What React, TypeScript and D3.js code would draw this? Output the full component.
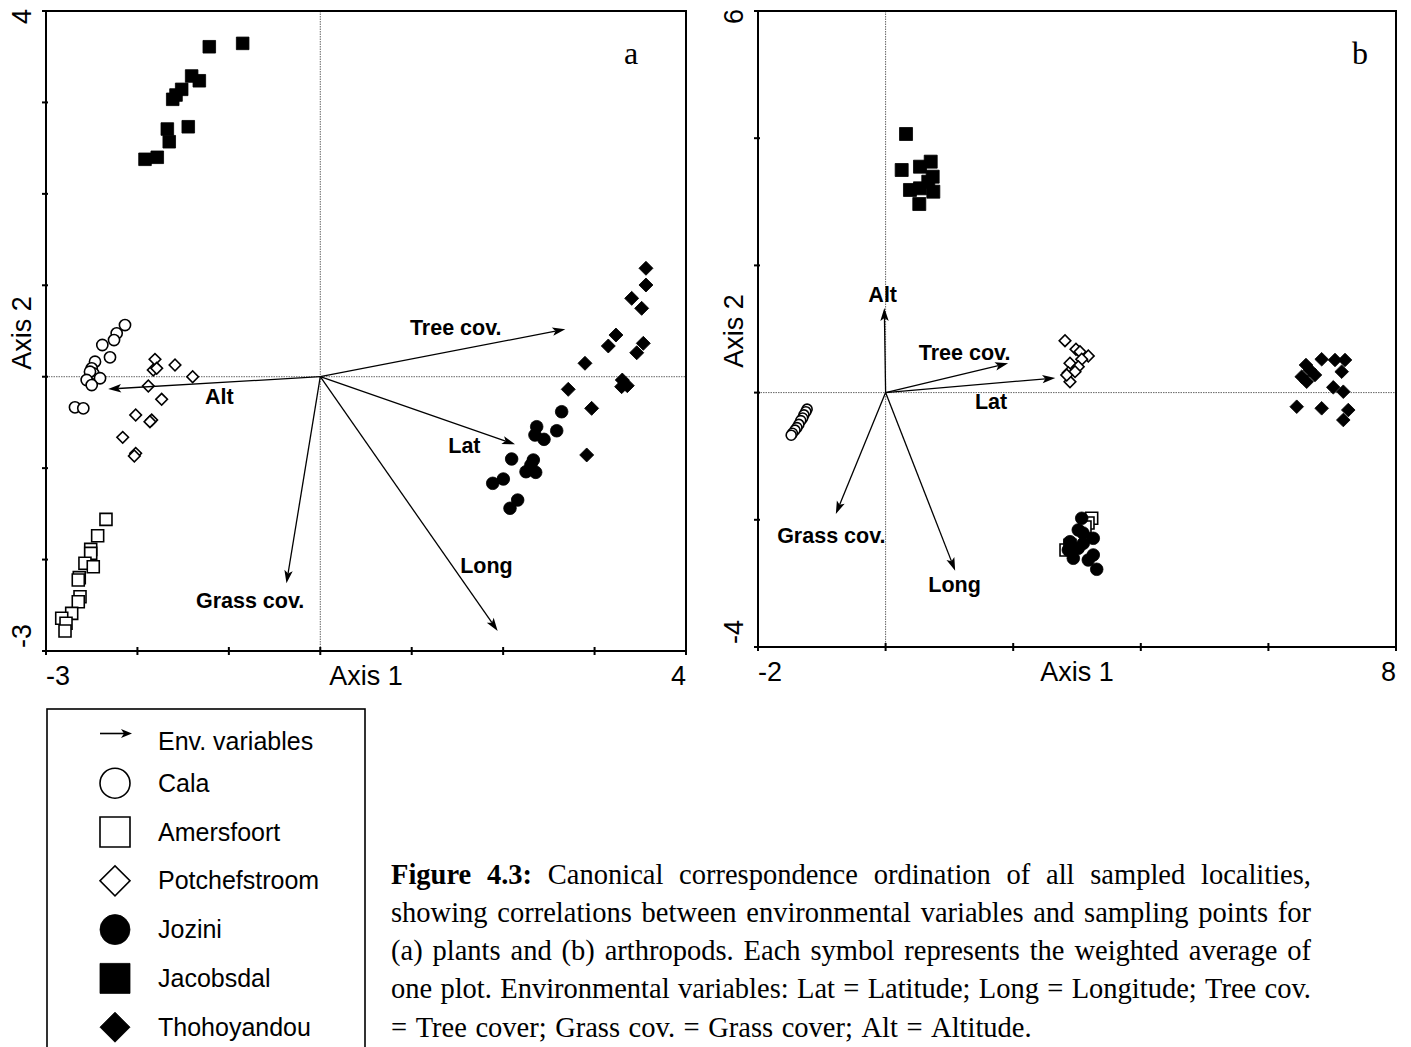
import React, { useEffect, useRef } from "react";
import * as d3 from "d3";

type Pt = [number, number];

interface EnvArrow {
  name: string;
  x: number;
  y: number;
  labelX: number;
  labelY: number;
}

// ---------- (a) plants: site scores on CCA axes 1 and 2 ----------
const plantsCala: Pt[] = [
  [-2.136, 0.565], [-2.227, 0.475], [-2.256, 0.401], [-2.384, 0.347], [-2.3, 0.212],
  [-2.464, 0.164], [-2.5, 0.092], [-2.483, 0.037], [-2.519, 0.055], [-2.409, -0.017],
  [-2.555, -0.036], [-2.5, -0.091], [-2.683, -0.335], [-2.592, -0.346],
];
const plantsAmersfoort: Pt[] = [
  [-2.344, -1.56], [-2.435, -1.739], [-2.511, -1.888], [-2.511, -1.932], [-2.574, -2.041],
  [-2.483, -2.078], [-2.636, -2.198], [-2.647, -2.224], [-2.628, -2.406], [-2.647, -2.461],
  [-2.719, -2.588], [-2.828, -2.642], [-2.781, -2.697], [-2.792, -2.781],
];
const plantsPotchefstroom: Pt[] = [
  [-1.808, 0.19], [-1.589, 0.128], [-1.827, 0.073], [-1.789, 0.092], [-1.396, 0.0],
  [-1.881, -0.102], [-1.735, -0.247], [-2.019, -0.419], [-1.844, -0.474], [-1.863, -0.492],
  [-2.161, -0.663], [-2.019, -0.838], [-2.034, -0.867],
];
const plantsJozini: Pt[] = [
  [2.64, -0.383], [2.586, -0.591], [2.367, -0.547], [2.348, -0.638], [2.447, -0.685],
  [2.093, -0.9], [2.33, -0.911], [2.304, -0.966], [2.25, -1.039], [2.356, -1.046],
  [2.002, -1.119], [1.886, -1.166], [2.159, -1.349], [2.075, -1.439],
];
const plantsJacobsdal: Pt[] = [
  [-1.214, 3.609], [-0.849, 3.646], [-1.407, 3.289], [-1.323, 3.237], [-1.516, 3.143],
  [-1.578, 3.081], [-1.614, 3.034], [-1.444, 2.734], [-1.673, 2.709], [-1.652, 2.57],
  [-1.917, 2.378], [-1.783, 2.4],
];
const plantsThohoyandou: Pt[] = [
  [3.562, 1.186], [3.562, 1.003], [3.406, 0.857], [3.515, 0.748], [3.234, 0.456],
  [3.15, 0.336], [3.533, 0.365], [3.461, 0.262], [2.895, 0.147], [3.303, -0.036],
  [3.358, -0.098], [3.296, -0.109], [2.712, -0.138], [2.968, -0.346], [2.914, -0.856],
];
const plantsArrows: EnvArrow[] = [
  { name: "Tree cov.", x: 2.68, y: 0.52, labelX: 0.98, labelY: 0.46 },
  { name: "Alt", x: -2.32, y: -0.135, labelX: -1.26, labelY: -0.3 },
  { name: "Lat", x: 2.13, y: -0.74, labelX: 1.4, labelY: -0.835 },
  { name: "Long", x: 1.94, y: -2.78, labelX: 1.53, labelY: -2.147 },
  { name: "Grass cov.", x: -0.37, y: -2.26, labelX: -1.36, labelY: -2.53 },
];

// ---------- (b) arthropods ----------
const arthCala: Pt[] = [
  [-1.23, -0.26], [-1.25, -0.3], [-1.28, -0.35], [-1.3, -0.4], [-1.33, -0.44],
  [-1.36, -0.5], [-1.39, -0.55], [-1.42, -0.59], [-1.46, -0.64], [-1.48, -0.67],
];
const arthAmersfoort: Pt[] = [
  [3.23, -1.976], [3.172, -2.05], [3.125, -2.113], [2.828, -2.475], [2.89, -2.4],
];
const arthPotchefstroom: Pt[] = [
  [2.812, 0.816], [2.984, 0.681], [3.047, 0.643], [3.177, 0.575], [3.074, 0.524],
  [2.89, 0.461], [3.02, 0.407], [2.864, 0.313], [2.969, 0.329], [2.89, 0.171], [2.839, 0.277],
];
const arthJozini: Pt[] = [
  [3.074, -1.976], [3.02, -2.16], [3.255, -2.291], [2.89, -2.344], [3.099, -2.37],
  [2.864, -2.475], [3.02, -2.448], [3.255, -2.553], [2.942, -2.605], [3.177, -2.632],
  [3.309, -2.778], [3.094, -2.208],
];
const arthJacobsdal: Pt[] = [
  [0.32, 4.066], [0.252, 3.5], [0.707, 3.631], [0.539, 3.552], [0.738, 3.395],
  [0.382, 3.186], [0.748, 3.159], [0.539, 3.212], [0.528, 2.965], [0.669, 3.316],
];
const arthThohoyandou: Pt[] = [
  [6.589, 0.434], [6.835, 0.524], [7.044, 0.513], [7.201, 0.513], [6.652, 0.355],
  [6.522, 0.25], [6.6, 0.171], [6.73, 0.277], [7.149, 0.329], [7.017, 0.083],
  [7.174, 0.014], [6.444, -0.222], [6.835, -0.247], [7.252, -0.274], [7.174, -0.431],
];
const arthArrows: EnvArrow[] = [
  { name: "Alt", x: -0.02, y: 1.33, labelX: -0.27, labelY: 1.43 },
  { name: "Tree cov.", x: 1.92, y: 0.46, labelX: 0.52, labelY: 0.52 },
  { name: "Lat", x: 2.66, y: 0.23, labelX: 1.4, labelY: -0.26 },
  { name: "Grass cov.", x: -0.78, y: -1.91, labelX: -1.7, labelY: -2.36 },
  { name: "Long", x: 1.09, y: -2.8, labelX: 0.67, labelY: -3.13 },
];

const localities = ["Cala", "Amersfoort", "Potchefstroom", "Jozini", "Jacobsdal", "Thohoyandou"];

const captionLines: string[] = [
  "**Figure 4.3:** Canonical correspondence ordination of all sampled localities,",
  "showing correlations between environmental variables and sampling points for",
  "(a) plants and (b) arthropods. Each symbol represents the weighted average of",
  "one plot. Environmental variables: Lat = Latitude; Long = Longitude; Tree cov.",
  "= Tree cover; Grass cov. = Grass cover; Alt = Altitude.",
];

// ---------- drawing ----------
type Shape = "circle" | "square" | "diamond";
interface Style {
  shape: Shape;
  filled: boolean;
}
const localityStyle: Record<string, Style> = {
  Cala: { shape: "circle", filled: false },
  Amersfoort: { shape: "square", filled: false },
  Potchefstroom: { shape: "diamond", filled: false },
  Jozini: { shape: "circle", filled: true },
  Jacobsdal: { shape: "square", filled: true },
  Thohoyandou: { shape: "diamond", filled: true },
};

const SANS = "'Liberation Sans', Arial, sans-serif";
const SERIF = "'Liberation Serif', 'Times New Roman', serif";

// size = radius for circles, half side for squares, half diagonal for diamonds
function symbolPath(shape: Shape, size: number): string {
  if (shape === "circle") return d3.symbol().type(d3.symbolCircle).size(Math.PI * size * size)()!;
  if (shape === "square") return d3.symbol().type(d3.symbolSquare).size(4 * size * size)()!;
  return d3.symbol().type(d3.symbolSquare).size(2 * size * size)()!;
}

function Marker({ shape, filled, size, x, y }: { shape: Shape; filled: boolean; size: number; x: number; y: number }) {
  const rot = shape === "diamond" ? " rotate(45)" : "";
  return (
    <path
      d={symbolPath(shape, size)}
      transform={`translate(${x},${y})${rot}`}
      fill={filled ? "#000" : "#fff"}
      stroke="#000"
      strokeWidth={filled ? 0.8 : 1.6}
    />
  );
}

function ArrowLine({ x1, y1, x2, y2, head = 13, half = 4.2, width = 1.3 }: { x1: number; y1: number; x2: number; y2: number; head?: number; half?: number; width?: number }) {
  const dx = x2 - x1;
  const dy = y2 - y1;
  const len = Math.hypot(dx, dy);
  const ux = dx / len;
  const uy = dy / len;
  const bx = x2 - ux * head;
  const by = y2 - uy * head;
  const tri = `M${x2},${y2} L${bx - uy * half},${by + ux * half} L${bx + ux * 3},${by + uy * 3} L${bx + uy * half},${by - ux * half} Z`;
  return (
    <g>
      <line x1={x1} y1={y1} x2={bx + ux * 3} y2={by + uy * 3} stroke="#000" strokeWidth={width} />
      <path d={tri} fill="#000" />
    </g>
  );
}

interface PanelProps {
  left: number;
  right: number;
  top: number;
  bottom: number;
  xDomain: [number, number];
  yDomain: [number, number];
  tickCount: number;
  series: Record<string, Pt[]>;
  sizes: Record<string, number>;
  arrows: EnvArrow[];
  letter: string;
  letterInset: number;
}

function Panel(p: PanelProps) {
  const x = d3.scaleLinear().domain(p.xDomain).range([p.left, p.right]);
  const y = d3.scaleLinear().domain(p.yDomain).range([p.bottom, p.top]);
  const xt = x.ticks(p.tickCount);
  const yt = y.ticks(p.tickCount);
  const ox = x(0);
  const oy = y(0);
  const yLabelX = p.left - 15;
  return (
    <g>
      {/* zero lines */}
      <line x1={ox} x2={ox} y1={p.top} y2={p.bottom} stroke="#666" strokeWidth={1} strokeDasharray="1.5,1" />
      <line x1={p.left} x2={p.right} y1={oy} y2={oy} stroke="#666" strokeWidth={1} strokeDasharray="1.5,1" />
      {/* sites */}
      {localities.map((loc) =>
        p.series[loc].map((d, i) => (
          <Marker key={`${loc}-${i}`} shape={localityStyle[loc].shape} filled={localityStyle[loc].filled} size={p.sizes[loc]} x={x(d[0])} y={y(d[1])} />
        ))
      )}
      {/* environmental variables */}
      {p.arrows.map((a) => (
        <g key={a.name}>
          <ArrowLine x1={ox} y1={oy} x2={x(a.x)} y2={y(a.y)} />
          <text x={x(a.labelX)} y={y(a.labelY)} fontFamily={SANS} fontWeight="bold" fontSize={21.5} fill="#000">
            {a.name}
          </text>
        </g>
      ))}
      {/* frame */}
      <rect x={p.left} y={p.top} width={p.right - p.left} height={p.bottom - p.top} fill="none" stroke="#000" strokeWidth={2} />
      {xt.map((t) => (
        <line key={`xt${t}`} x1={x(t)} x2={x(t)} y1={p.bottom - 4} y2={p.bottom + 4} stroke="#000" strokeWidth={2} />
      ))}
      {yt.map((t) => (
        <line key={`yt${t}`} x1={p.left - 4} x2={p.left + 2} y1={y(t)} y2={y(t)} stroke="#000" strokeWidth={2} />
      ))}
      {/* axis end values and titles */}
      <g fontFamily={SANS} fontSize={27} fill="#000">
        <text x={p.left} y={p.bottom + 34} textAnchor="start">{p.xDomain[0]}</text>
        <text x={p.right} y={p.bottom + 34} textAnchor="end">{p.xDomain[1]}</text>
        <text x={(p.left + p.right) / 2} y={p.bottom + 34} textAnchor="middle">Axis 1</text>
        <text transform={`translate(${yLabelX},${p.top - 2}) rotate(-90)`} textAnchor="end">{p.yDomain[1]}</text>
        <text transform={`translate(${yLabelX},${p.bottom - 3}) rotate(-90)`} textAnchor="start">{p.yDomain[0]}</text>
        <text transform={`translate(${yLabelX},${(p.top + p.bottom) / 2 + 2}) rotate(-90)`} textAnchor="middle">Axis 2</text>
      </g>
      <text x={p.right - p.letterInset} y={64} fontFamily={SERIF} fontSize={32} textAnchor="middle">{p.letter}</text>
    </g>
  );
}

function Legend() {
  const left = 47;
  const top = 709;
  const symX = 115;
  const textX = 158;
  const rowH = 48.8;
  const envBase = 749.5;
  const firstBase = 791.7;
  return (
    <g>
      <rect x={left} y={top} width={318} height={400} fill="none" stroke="#000" strokeWidth={1.6} />
      <ArrowLine x1={100} y1={envBase - 16} x2={132} y2={envBase - 16} head={11} half={4.5} width={1.6} />
      <text x={textX} y={envBase} fontFamily={SANS} fontSize={25}>Env. variables</text>
      {localities.map((loc, i) => {
        const base = firstBase + rowH * i;
        const st = localityStyle[loc];
        return (
          <g key={loc}>
            <Marker shape={st.shape} filled={st.filled} size={15} x={symX} y={base - 8.5} />
            <text x={textX} y={base} fontFamily={SANS} fontSize={25}>{loc}</text>
          </g>
        );
      })}
    </g>
  );
}

function Caption() {
  const ref = useRef<SVGGElement>(null);
  useEffect(() => {
    const g = d3.select(ref.current);
    g.selectAll("*").remove();
    const x0 = 391;
    const x1 = 1311;
    const base0 = 883.5;
    const lineH = 38.3;
    const fs = 28.5;
    captionLines.forEach((line, i) => {
      const tokens: { t: string; bold: boolean }[] = [];
      const boldMatch = line.match(/^\*\*(.+?)\*\*\s*(.*)$/);
      if (boldMatch) {
        boldMatch[1].split(" ").forEach((w) => tokens.push({ t: w, bold: true }));
        boldMatch[2].split(" ").forEach((w) => tokens.push({ t: w, bold: false }));
      } else {
        line.split(" ").forEach((w) => tokens.push({ t: w, bold: false }));
      }
      const texts = tokens.map((tk) =>
        g
          .append("text")
          .attr("y", base0 + i * lineH)
          .attr("font-family", SERIF)
          .attr("font-size", fs)
          .attr("font-weight", tk.bold ? "bold" : "normal")
          .attr("fill", "#000")
          .text(tk.t)
      );
      const widths = texts.map((t) => (t.node() as SVGTextElement).getComputedTextLength());
      const total = d3.sum(widths);
      const last = i === captionLines.length - 1;
      const gap = last ? fs * 0.3 : (x1 - x0 - total) / (tokens.length - 1);
      let cx = x0;
      texts.forEach((t, j) => {
        t.attr("x", cx);
        cx += widths[j] + gap;
      });
    });
  }, []);
  return <g ref={ref} />;
}

export default function App() {
  return (
    <svg
      width={1411}
      height={1047}
      viewBox="0 0 1411 1047"
      style={{ position: "absolute", left: 0, top: 0, background: "#fff" }}
    >
      <rect x={0} y={0} width={1411} height={1047} fill="#fff" />
      <Panel
        left={46}
        right={686}
        top={11}
        bottom={651}
        xDomain={[-3, 4]}
        yDomain={[-3, 4]}
        tickCount={7}
        series={{
          Cala: plantsCala,
          Amersfoort: plantsAmersfoort,
          Potchefstroom: plantsPotchefstroom,
          Jozini: plantsJozini,
          Jacobsdal: plantsJacobsdal,
          Thohoyandou: plantsThohoyandou,
        }}
        sizes={{ Cala: 5.6, Amersfoort: 6, Potchefstroom: 5.8, Jozini: 6.3, Jacobsdal: 6.3, Thohoyandou: 7 }}
        arrows={plantsArrows}
        letter="a"
        letterInset={55}
      />
      <Panel
        left={758}
        right={1396}
        top={11}
        bottom={647}
        xDomain={[-2, 8]}
        yDomain={[-4, 6]}
        tickCount={5}
        series={{
          Cala: arthCala,
          Amersfoort: arthAmersfoort,
          Potchefstroom: arthPotchefstroom,
          Jozini: arthJozini,
          Jacobsdal: arthJacobsdal,
          Thohoyandou: arthThohoyandou,
        }}
        sizes={{ Cala: 5, Amersfoort: 6, Potchefstroom: 5.8, Jozini: 6.3, Jacobsdal: 6.5, Thohoyandou: 6.8 }}
        arrows={arthArrows}
        letter="b"
        letterInset={36}
      />
      <Legend />
      <Caption />
    </svg>
  );
}
